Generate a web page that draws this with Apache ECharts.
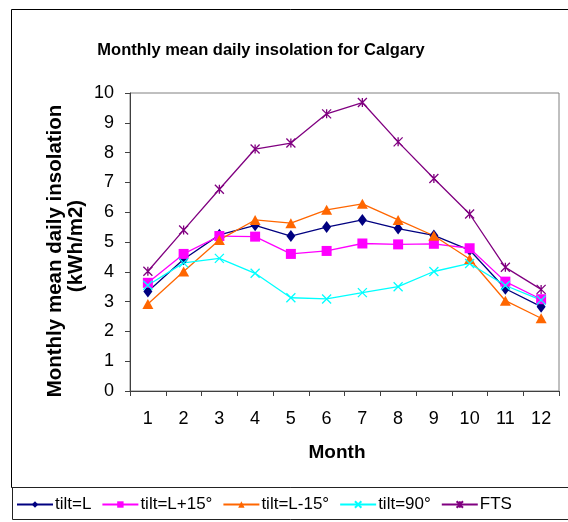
<!DOCTYPE html>
<html>
<head>
<meta charset="utf-8">
<script src="https://cdn.jsdelivr.net/npm/echarts@6/dist/echarts.min.js"></script>
<style>
html,body{margin:0;padding:0;background:#fff;}
#chart{width:568px;height:522px;}
</style>
</head>
<body>
<div id="chart"></div>
<script>
const months = ['1','2','3','4','5','6','7','8','9','10','11','12'];
const tiltL     = [3.34, 4.42, 5.24, 5.56, 5.20, 5.50, 5.74, 5.45, 5.22, 4.73, 3.43, 2.83];
const tiltLp15  = [3.63, 4.60, 5.20, 5.18, 4.60, 4.70, 4.95, 4.92, 4.94, 4.79, 3.67, 3.08];
const tiltLm15  = [2.92, 4.01, 5.07, 5.74, 5.63, 6.08, 6.28, 5.74, 5.21, 4.43, 3.03, 2.44];
const tilt90    = [3.55, 4.30, 4.45, 3.95, 3.13, 3.09, 3.30, 3.50, 4.01, 4.28, 3.54, 3.05];
const fts       = [4.02, 5.40, 6.77, 8.12, 8.32, 9.30, 9.68, 8.36, 7.13, 5.94, 4.15, 3.41];
const yTicks = [0,1,2,3,4,5,6,7,8,9,10];

const FONT = 'Liberation Sans, Arial, sans-serif';
const xPath = 'path://M0,0L10,10M10,0L0,10';
const starPath = 'path://M0,0L10,10M10,0L0,10M5,0L5,10';

function mk(name, data, color, symbol, size, stroke) {
  return {
    name: name, type: 'line', data: data,
    symbol: symbol, symbolSize: size,
    lineStyle: { color: color, width: 1.3 },
    itemStyle: stroke ? { color: 'rgba(0,0,0,0)', borderColor: color, borderWidth: 1.3 } : { color: color, borderWidth: 0 },
    emphasis: { disabled: true },
    animation: false
  };
}

const chart = echarts.init(document.getElementById('chart'), null, {renderer: 'canvas'});
chart.setOption({
  backgroundColor: '#ffffff',
  animation: false,
  grid: { left: 130, top: 93, right: 9, bottom: 131, show: true, borderColor: '#808080', borderWidth: 1, backgroundColor: 'transparent' },
  xAxis: {
    type: 'category', data: months, boundaryGap: true,
    axisLine: { lineStyle: { color: '#404040', width: 1 } },
    axisTick: { show: true, inside: false, length: 5, lineStyle: { color: '#404040' } },
    axisLabel: { color: '#000', fontFamily: FONT, fontSize: 18, margin: 19 },
    splitLine: { show: false }
  },
  yAxis: {
    type: 'value', min: 0, max: 10, interval: 1,
    axisLine: { show: true, lineStyle: { color: '#404040', width: 1 } },
    axisTick: { show: true, inside: false, length: 5, lineStyle: { color: '#404040' } },
    axisLabel: { color: '#000', fontFamily: FONT, fontSize: 18, margin: 16 },
    splitLine: { show: false }
  },
  legend: {
    left: 11, top: 491, itemWidth: 36, itemHeight: 8, itemGap: 10,
    textStyle: { fontFamily: FONT, fontSize: 17, color: '#000', padding: [0,0,0,-3] },
    data: ['tilt=L','tilt=L+15°','tilt=L-15°','tilt=90°','FTS']
  },
  graphic: [
    { type: 'rect', shape: { x: 11.5, y: 9.5, width: 570, height: 478 }, style: { fill: 'none', stroke: '#000', lineWidth: 1 }, z: -10, silent: true },
    { type: 'rect', shape: { x: 12.5, y: 487.5, width: 570, height: 32 }, style: { fill: '#fff', stroke: '#222', lineWidth: 1 }, z: -5, silent: true },
    { type: 'text', x: 261, y: 50, style: { text: 'Monthly mean daily insolation for Calgary', font: 'bold 16.5px ' + FONT, fill: '#000', textAlign: 'center', textVerticalAlign: 'middle' } },
    { type: 'text', x: 55, y: 251, rotation: Math.PI/2, style: { text: 'Monthly mean daily insolation', font: 'bold 20.5px ' + FONT, fill: '#000', textAlign: 'center', textVerticalAlign: 'middle' } },
    { type: 'text', x: 76, y: 246, rotation: Math.PI/2, style: { text: '(kWh/m2)', font: 'bold 20.5px ' + FONT, fill: '#000', textAlign: 'center', textVerticalAlign: 'middle' } },
    { type: 'text', x: 337, y: 453, style: { text: 'Month', font: 'bold 19px ' + FONT, fill: '#000', textAlign: 'center', textVerticalAlign: 'middle' } }
  ],
  series: [
    mk('tilt=L', tiltL, '#000080', 'diamond', [9, 12], false),
    mk('tilt=L+15°', tiltLp15, '#FF00FF', 'rect', 10, false),
    mk('tilt=L-15°', tiltLm15, '#FF6600', 'triangle', [11, 10], false),
    mk('tilt=90°', tilt90, '#00FFFF', xPath, 9, true),
    mk('FTS', fts, '#800080', starPath, 9, true)
  ]
});
</script>
</body>
</html>
